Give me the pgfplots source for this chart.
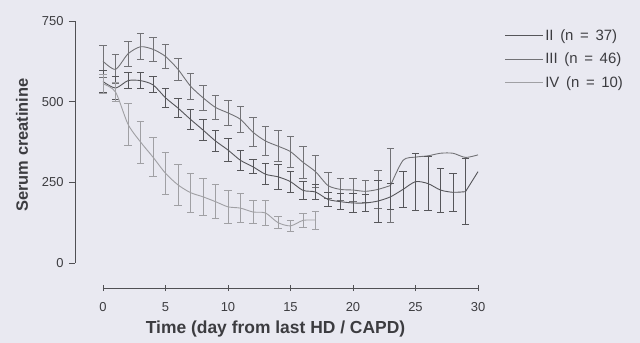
\documentclass[border=0pt]{standalone}
\usepackage{pgfplots}
\pgfplotsset{compat=1.18}
\usepackage{pgfplotstable}
\usepackage{fontspec}
\setmainfont{Liberation Sans}
\definecolor{bgcol}{RGB}{233,233,241}
\definecolor{axcol}{RGB}{80,80,84}
\definecolor{txtcol}{RGB}{60,60,64}
\definecolor{cII}{RGB}{86,86,90}
\definecolor{cIII}{RGB}{114,114,118}
\definecolor{cIV}{RGB}{160,160,164}

\pgfplotstableread{
x y e
0 625 50
1 600 45
2 648 40
3 670 40
4 662 38
5 640 38
6 600 35
7 548 40
8 512 38
9 482 38
10 465 40
11 445 40
12 405 45
13 378 45
14 362 48
15 345 48
16 312 50
17 283 50
18 240 40
19 228 35
20 226 35
21 222 35
22 228 60
23 240 115
}\dataIIIa
\pgfplotstableread{
x y
23 240
24 318
25 328
26 332
27 340
28 340
29 327
30 335
}\dataIIIb
\pgfplotstableread{
x y e
0 562 35
1 542 35
2 565 25
3 565 25
4 552 25
5 512 30
6 480 30
7 445 32
8 412 32
9 378 32
10 350 35
11 318 32
12 298 22
13 275 32
14 267 38
15 252 32
16 225 28
17 220 22
18 197 22
19 190 25
20 186 28
21 186 25
22 192 65
23 205 40
24 228 55
25 252 88
26 246 83
27 226 68
28 219 60
29 221 103
}\dataIIa
\pgfplotstableread{
x y
29 221
30 283
}\dataIIb
\pgfplotstableread{
x y e
0 555 30
1 530 30
2 430 65
3 375 65
4 328 60
5 278 65
6 242 63
7 218 60
8 205 57
9 190 52
10 174 52
11 170 45
12 158 35
13 155 40
14 125 18
15 115 18
16 132 23
17 133 28
}\dataIV

\begin{document}
\begin{tikzpicture}
\fill[bgcol] (-75bp,-55bp) rectangle (565bp,288bp);
\begin{axis}[
  at={(0,0)}, anchor=south west,
  scale only axis, width=409.25bp, height=270.3bp,
  xmin=-2.24, xmax=30.5, ymin=-77.5, ymax=760,
  clip=false,
  axis lines*=left,
  axis line style={draw=none},
  xtick={0,5,...,30}, ytick={0,250,500,750},
  xtick align=center, ytick align=outside,
  major tick length=6bp,
  tick style={draw=axcol, line width=0.8bp},
  ticklabel style={font=\fontsize{13}{15}\selectfont, text=txtcol},
  /pgf/number format/assume math mode=true,
  xticklabel style={yshift=-8bp},
  yticklabel style={xshift=-2bp},
  xlabel={Time (day from last HD / CAPD)},
  ylabel={Serum creatinine},
  every axis x label/.style={at={(axis description cs:0.49,-0.152)}, anchor=center,
     font=\fontsize{17.5}{20}\selectfont\bfseries, text=txtcol},
  every axis y label/.style={at={(axis description cs:-0.1295,0.529)}, anchor=center, rotate=90,
     font=\fontsize{16.5}{19}\selectfont\bfseries, text=txtcol},
  legend style={at={(axis description cs:1.05,0.962)}, anchor=north west, draw=none, fill=none,
    font=\fontsize{15}{18}\selectfont, text=txtcol, row sep=8bp, inner sep=0pt,
    nodes={inner sep=1.5bp}},
  legend cell align=left,
  legend image code/.code={\draw[#1] (0bp,0bp) -- (38bp,0bp);},
  error bars/error bar style={line width=0.85bp},
  error bars/error mark options={rotate=90, mark size=3.6bp, line width=0.85bp},
]
\addplot[cIII, line width=0.9bp, smooth, tension=0.45, forget plot,
  error bars/.cd, y dir=both, y explicit] table[x=x, y=y, y error=e] {\dataIIIa};
\addplot[cIII, line width=0.9bp, smooth, tension=0.45, forget plot] table[x=x, y=y] {\dataIIIb};
\addplot[cII, line width=0.9bp, smooth, tension=0.45, forget plot,
  error bars/.cd, y dir=both, y explicit] table[x=x, y=y, y error=e] {\dataIIa};
\addplot[cII, line width=0.9bp, forget plot] table[x=x, y=y] {\dataIIb};
\addplot[cIV, line width=0.9bp, smooth, tension=0.45, forget plot,
  error bars/.cd, y dir=both, y explicit] table[x=x, y=y, y error=e] {\dataIV};
\addlegendimage{cII, line width=0.9bp}
\addlegendentry{II\ \,(n\,\ =\,\ 37)}
\addlegendimage{cIII, line width=0.9bp}
\addlegendentry{III\ \,(n\,\ =\,\ 46)}
\addlegendimage{cIV, line width=0.9bp}
\addlegendentry{IV\ \,(n\,\ =\,\ 10)}
\draw[axcol, line width=0.9bp] (axis cs:0,-77.5) -- (axis cs:30,-77.5);
\draw[axcol, line width=0.9bp] (axis cs:-2.24,0) -- (axis cs:-2.24,750);
\end{axis}
\pgfresetboundingbox
\path[use as bounding box] (-75bp,-55bp) rectangle (565bp,288bp);
\end{tikzpicture}
\end{document}
